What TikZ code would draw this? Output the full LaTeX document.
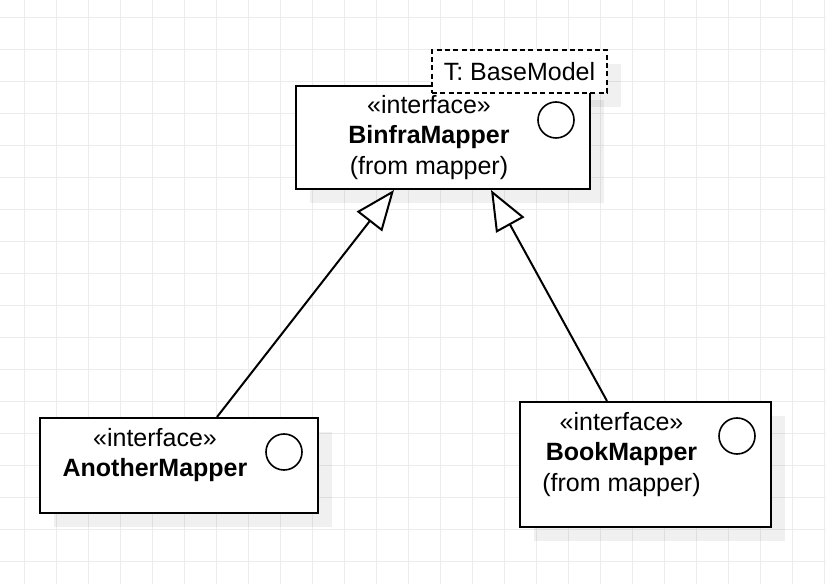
\documentclass[tikz,border=0pt]{standalone}
\usepackage{fontspec}
\setmainfont{Liberation Sans}
\usetikzlibrary{arrows.meta}
\usetikzlibrary{calc}

\begin{document}
\begin{tikzpicture}[x=0.75pt,y=0.75pt,yscale=-1,xscale=1,
  gridline/.style={draw={rgb, 255:red, 236; green, 236; blue, 236},line width=0.75pt},
  shadowbox/.style={draw=none,fill=black,fill opacity=0.06,inner sep=0pt},
  classbox/.style={draw=black,fill=white,line width=1.5pt,inner sep=0pt},
  tplbox/.style={draw=black,fill=white,line width=1.5pt,dash pattern={on 3.75pt off 2.5pt},inner sep=0pt,font=\fontsize{18.75}{23}\selectfont},
  iface/.style={circle,draw=black,fill=white,line width=1.2pt,minimum size=27pt,inner sep=0pt},
  umltext/.style={align=center,inner sep=0pt,font=\fontsize{18.75}{23}\selectfont},
  realize/.style={line width=1.5pt,-{Triangle[length=30pt,width=24pt,fill=white]}}
]
%set diagram at 826 x 584
\fill[white] (0,0) rectangle (826,584);
\useasboundingbox (0,0) rectangle (826,584);

%Grid
\foreach \gx in {24,56,...,824} \draw[gridline] (\gx,0) -- (\gx,584);
\foreach \gy in {18,50,...,562} \draw[gridline] (0,\gy) -- (826,\gy);

%Shadows
\node[shadowbox,minimum width=131.25pt,minimum height=32.25pt] (tplshadow) at (533.5,85.5) {};
\node[shadowbox,minimum width=220.5pt,minimum height=77.25pt] (binfrashadow) at (457,151.5) {};
\node[shadowbox,minimum width=208.5pt,minimum height=71.25pt] (anothershadow) at (193,479.5) {};
\node[shadowbox,minimum width=188.25pt,minimum height=93.75pt] (bookshadow) at (659.5,478.5) {};

%Shape: Rectangle BinfraMapper
\node[classbox,minimum width=220.5pt,minimum height=77.25pt] (binfra) at (443,137.5) {};
%Shape: Rectangle T: BaseModel
\node[tplbox,minimum width=131.25pt,minimum height=32.25pt] (tpl) at (519.5,71.5) {T: BaseModel};
%Shape: Rectangle AnotherMapper
\node[classbox,minimum width=208.5pt,minimum height=71.25pt] (another) at (179,465.5) {};
%Shape: Rectangle BookMapper
\node[classbox,minimum width=188.25pt,minimum height=93.75pt] (book) at (645.5,464.5) {};

%Shape: Circle
\node[iface] (binfraicon) at (556,120) {};
\node[iface] (anothericon) at (284,452) {};
\node[iface] (bookicon) at (737,436) {};

% Text Node
\node[umltext] (binfratxt) at (429,137.5) {«interface»\\\textbf{BinfraMapper}\\(from mapper)};
% Text Node
\node[umltext] (anothertxt) at (155,455) {«interface»\\\textbf{AnotherMapper}};
% Text Node
\node[umltext] (booktxt) at (621.5,454.5) {«interface»\\\textbf{BookMapper}\\(from mapper)};

%Generalization
\draw[realize] ($(another.north west)+(178,0)$) -- ($(binfra.south west)+(99,0)$);
\draw[realize] ($(book.north west)+(88,0)$) -- ($(binfra.south west)+(196,0)$);

\end{tikzpicture}
\end{document}
